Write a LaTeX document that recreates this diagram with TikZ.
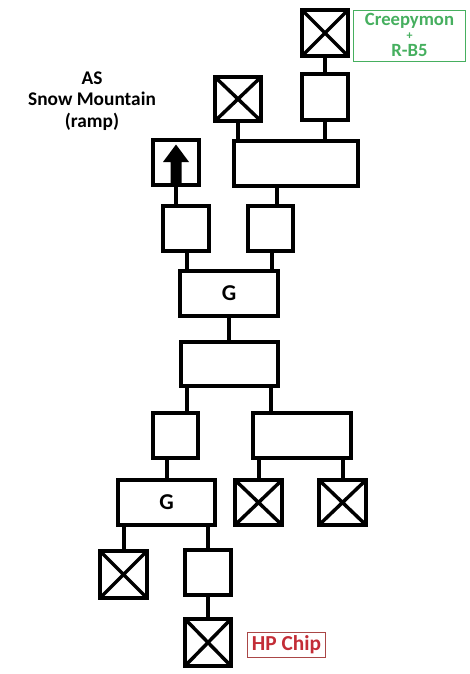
\documentclass[tikz,border=0pt]{standalone}
\usepackage{fontspec}
\setmainfont{Carlito}
\definecolor{cgreen}{RGB}{70,175,95}
\definecolor{cred}{RGB}{195,45,55}
\definecolor{credb}{RGB}{170,70,70}
\begin{document}
\begin{tikzpicture}[x=0.75pt,y=-0.75pt,
  pbox/.style 2 args={draw, line width=3pt, inner sep=0pt,
    minimum width={(#1-4)*0.75pt}, minimum height={(#2-4)*0.75pt}},
  xbox/.style 2 args={pbox={#1}{#2}, path picture={
    \draw[line width=2.6pt] (path picture bounding box.north west) -- (path picture bounding box.south east)
      (path picture bounding box.south west) -- (path picture bounding box.north east);}},
  conn/.style={line width=3pt},
  lbl/.style={font=\bfseries\fontsize{14.5}{16}\selectfont, align=center},
  gframe/.style={draw=cgreen, line width=0.8pt, minimum width=84pt, minimum height=38pt, inner sep=0pt},
  gtext/.style={font=\bfseries\fontsize{14}{14}\selectfont, text=cgreen, inner sep=0pt},
  gplus/.style={font=\bfseries\fontsize{9}{9}\selectfont, text=cgreen, inner sep=0pt},
  rlbl/.style={font=\bfseries\fontsize{16}{16}\selectfont, text=cred, draw=credb, line width=0.8pt, minimum width=59pt, minimum height=19pt, inner sep=0pt},
  gtxt/.style={font=\bfseries\fontsize{17}{18}\selectfont}]
\useasboundingbox (0,0) rectangle (469,674);

% nodes
\node[xbox={50}{50}] (xTop) at (325,33) {};
\node[gframe] (creep) at (409.5,36) {};
\node[gtext, anchor=base] (ct1) at ([yshift=7.5pt]creep.center) {Creepymon};
\node[gplus] (ct2) at ([yshift=0.2pt]creep.center) {+};
\node[gtext, anchor=base] (ct3) at ([yshift=-15.5pt]creep.center) {R-B5};
\node[pbox={50}{50}] (bTop) at (325,97) {};
\node[xbox={50}{48}] (xL) at (238,99) {};
\node[pbox={128}{49}] (W1) at (296,163.5) {};
\node[pbox={50}{49}] (A) at (176,162.5) {};
\node[lbl] (as) at (92,101) {AS\\Snow Mountain\\(ramp)};
\node[pbox={50}{49}] (s1) at (186,228.5) {};
\node[pbox={49}{49}] (s2) at (270.5,228.5) {};
\node[pbox={102}{49}, gtxt] (G1) at (229,293.5) {G};
\node[pbox={101}{48}] (W2) at (229.5,364) {};
\node[pbox={49}{49}] (s3) at (175.5,435.5) {};
\node[pbox={102}{49}] (W3) at (302,435.5) {};
\node[pbox={101}{49}, gtxt] (G2) at (166.5,502.5) {G};
\node[xbox={51}{49}] (xB1) at (258.5,502.5) {};
\node[xbox={51}{49}] (xB2) at (342.5,502.5) {};
\node[xbox={51}{51}] (xC) at (123.5,574.5) {};
\node[pbox={50}{49}] (s4) at (208,572.5) {};
\node[xbox={50}{51}] (xD) at (208,642.5) {};
\node[rlbl] (hp) at (286.5,645) {HP Chip};

% arrow inside A
\fill[shift={(A.center)}] (0,-18) -- (13,-0.5) -- (5.5,-0.5) -- (5.5,20.5) -- (-5.5,20.5) -- (-5.5,-0.5) -- (-13,-0.5) -- cycle;

% connectors
\draw[conn] (xTop.south) -- (bTop.north);
\draw[conn] (xL.south) -- (xL.south |- W1.north);
\draw[conn] (bTop.south) -- (bTop.south |- W1.north);
\draw[conn] (A.south) -- (A.south |- s1.north);
\draw[conn] ([xshift=-19*0.75pt]W1.south) -- ([xshift=-19*0.75pt]W1.south |- s2.north);
\draw[conn] ([xshift=-42*0.75pt]G1.north) -- ([xshift=-42*0.75pt]G1.north |- s1.south);
\draw[conn] ([xshift=43*0.75pt]G1.north) -- ([xshift=43*0.75pt]G1.north |- s2.south);
\draw[conn] (G1.south) -- (G1.south |- W2.north);
\draw[conn] ([xshift=-42.5*0.75pt]W2.south) -- ([xshift=-42.5*0.75pt]W2.south |- s3.north);
\draw[conn] ([xshift=41.5*0.75pt]W2.south) -- ([xshift=41.5*0.75pt]W2.south |- W3.north);
\draw[conn] ([xshift=-8.5*0.75pt]s3.south) -- ([xshift=-8.5*0.75pt]s3.south |- G2.north);
\draw[conn] (xB1.north) -- (xB1.north |- W3.south);
\draw[conn] (xB2.north) -- (xB2.north |- W3.south);
\draw[conn] (xC.north) -- (xC.north |- G2.south);
\draw[conn] (s4.north) -- (s4.north |- G2.south);
\draw[conn] (s4.south) -- (xD.north);
\end{tikzpicture}
\end{document}
